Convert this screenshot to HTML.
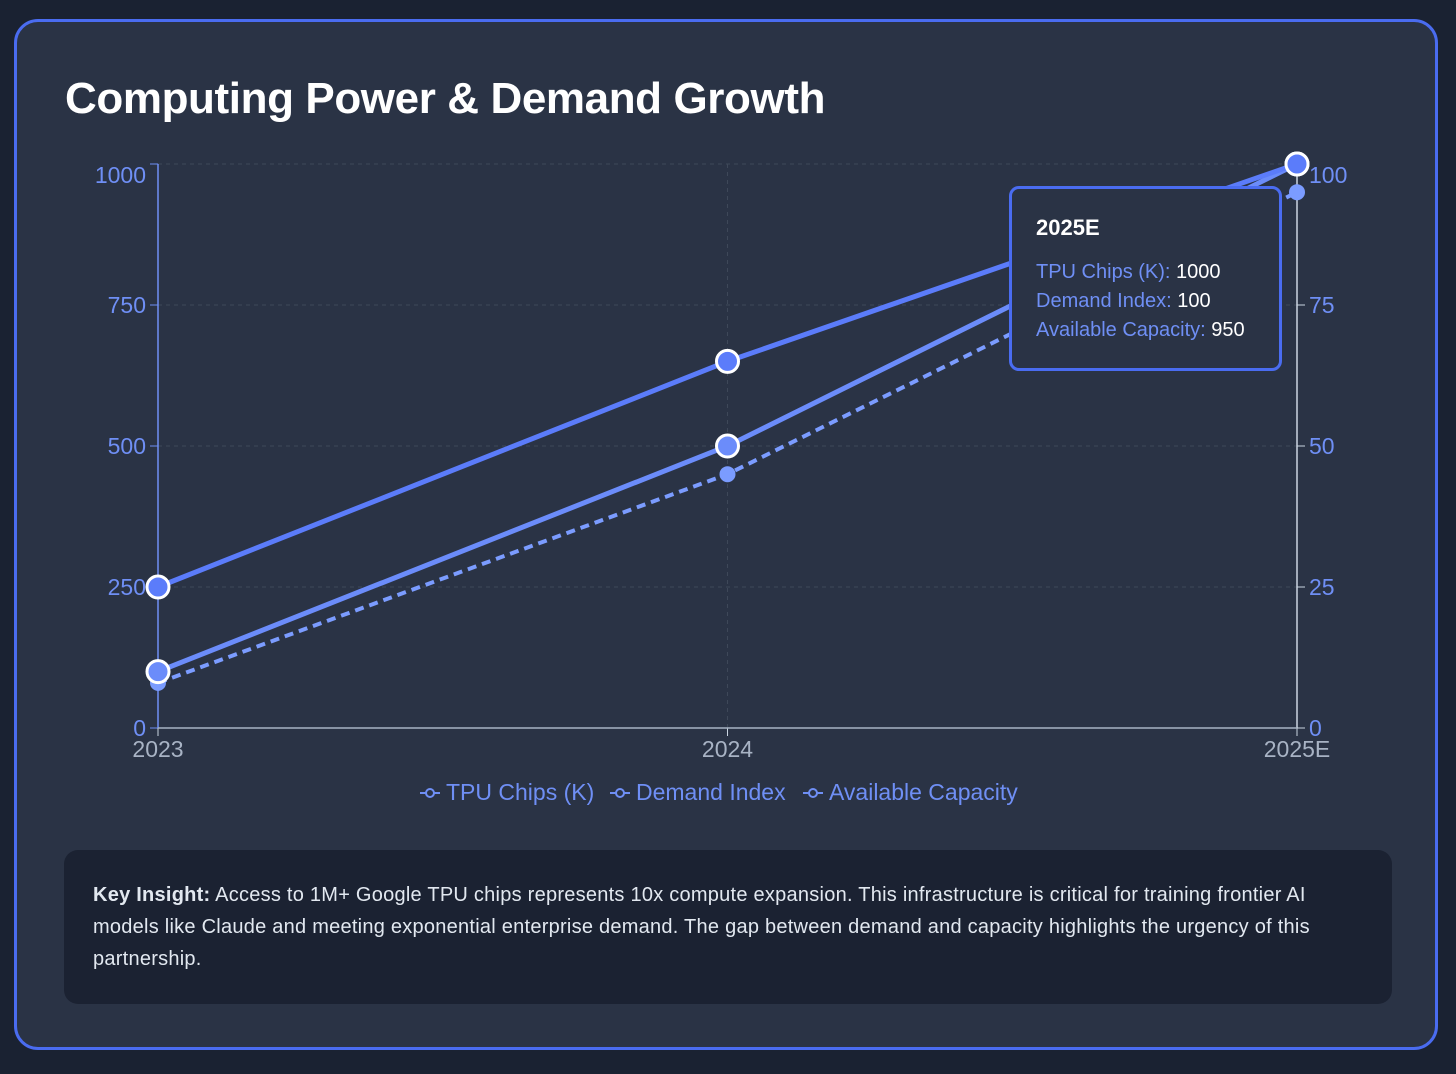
<!DOCTYPE html>
<html><head><meta charset="utf-8"><style>
html,body{margin:0;padding:0;background:#1a2232;width:1456px;height:1074px;overflow:hidden;font-family:"Liberation Sans",sans-serif}
.card{position:absolute;left:14px;top:19px;width:1424px;height:1031px;border:3px solid #4a6cf0;border-radius:24px;background:#2a3345;box-sizing:border-box}
h1{position:absolute;left:48px;top:52px;margin:0;color:#fff;font-size:44px;font-weight:bold;letter-spacing:-0.4px}
.insight{position:absolute;left:47px;top:829px;width:1328px;height:154px;background:#1b2232;border-radius:14px;box-sizing:border-box;padding:29px 29px;color:#e2e8f0;font-size:20px;line-height:32px;letter-spacing:0.25px}
.tip{position:absolute;left:1009px;top:186px;width:273px;height:185px;border:3px solid #4a6cf0;border-radius:10px;background:#2a3345;box-sizing:border-box;padding:26px 24px;font-size:20px;color:#fff}
.tip .t{font-weight:bold;font-size:22px;margin-bottom:17px}
.tip .r{line-height:29px}
.tip .k{color:#6f8ff5}
</style></head><body>
<div class="card">
<h1>Computing Power &amp; Demand Growth</h1>
</div>
<svg width="1456" height="1074" style="position:absolute;left:0;top:0" id="chart"></svg>
<div class="tip">
<div class="t">2025E</div>
<div class="r"><span class="k">TPU Chips (K):</span> 1000</div>
<div class="r"><span class="k">Demand Index:</span> 100</div>
<div class="r"><span class="k">Available Capacity:</span> 950</div>
</div>
<div class="insight" style="left:64px;top:850px"><b>Key Insight:</b> Access to 1M+ Google TPU chips represents 10x compute expansion. This infrastructure is critical for training frontier AI models like Claude and meeting exponential enterprise demand. The gap between demand and capacity highlights the urgency of this partnership.</div>
<script>
const categories=["2023","2024","2025E"];
const tpuChips=[250,650,1000];
const demandIndex=[10,50,100];
const availableCapacity=[80,450,950];
const leftTicks=[0,250,500,750,1000];
const rightTicks=[0,25,50,75,100];
const NS="http://www.w3.org/2000/svg";
const svg=document.getElementById('chart');
const x0=158,x1=1297,yb=728,yt=164;
const xs=i=>x0+i*(x1-x0)/(categories.length-1);
const yL=v=>yb-v/1000*(yb-yt);
const yR=v=>yb-v/100*(yb-yt);
function el(t,a,p){const e=document.createElementNS(NS,t);for(const k in a)e.setAttribute(k,a[k]);(p||svg).appendChild(e);return e;}
const lab=y=>Math.max(y,175)+8;
leftTicks.forEach((v,i)=>{
 if(v>0){const g=el('line',{x1:x0,x2:x1,y1:yL(v),y2:yL(v),stroke:'#3e4859','stroke-dasharray':'4 4'});
 
 }
 const t=el('text',{x:146,y:lab(yL(v)),'text-anchor':'end',fill:'#6f8ff5','font-size':23});t.textContent=v;
 
 
 el('line',{x1:150,x2:158,y1:yL(v),y2:yL(v),stroke:'#6f8ff5'});
});
rightTicks.forEach(v=>{
 const t=el('text',{x:1309,y:lab(yR(v)),fill:'#6f8ff5','font-size':23});t.textContent=v;
 
 
 el('line',{x1:1297,x2:1305,y1:yR(v),y2:yR(v),stroke:'#cbd5e1'});
});
categories.forEach((c,i)=>{
 if(i>0&&i<categories.length-1)el('line',{x1:xs(i),x2:xs(i),y1:yt,y2:yb,stroke:'#3e4859','stroke-dasharray':'4 4'});
 el('line',{x1:xs(i),x2:xs(i),y1:yb,y2:yb+8,stroke:'#cbd5e1'});
 const t=el('text',{x:xs(i),y:757,'text-anchor':'middle',fill:'#a8b3c4','font-size':23});t.textContent=c;
 
 
});
el('line',{x1:x0,x2:x0,y1:yt,y2:yb,stroke:'#6f8ff5','stroke-width':1.5});
el('line',{x1:x1,x2:x1,y1:yt,y2:yb,stroke:'#cbd5e1','stroke-width':1.5});
el('line',{x1:x0,x2:x1,y1:yb,y2:yb,stroke:'#a8b3c4','stroke-width':1.5});
function series(vals,yf,color,w,dash,r,name){
 const p=el('polyline',{points:vals.map((v,i)=>xs(i)+','+yf(v)).join(' '),fill:'none',stroke:color,'stroke-width':w,'stroke-dasharray':dash||'none'});
 
 
 vals.forEach((v,i)=>{const c=el('circle',{cx:xs(i),cy:yf(v),r:r,fill:color,stroke:dash?'none':'#fff','stroke-width':3});
 
 });
}
series(availableCapacity,yL,'#7b9cff',4,'9 6',8,'capacity');
series(demandIndex,yR,'#6b8cfa',5,null,11,'demand');
series(tpuChips,yL,'#5b7cfa',5,null,11,'tpu');
const leg=[["TPU Chips (K)",420],["Demand Index",610],["Available Capacity",803]];
leg.forEach(([n,x])=>{
 el('line',{x1:x,x2:x+20,y1:793,y2:793,stroke:'#6f8ff5','stroke-width':2});
 el('circle',{cx:x+10,cy:793,r:4,fill:'#2a3345',stroke:'#6f8ff5','stroke-width':2});
 const t=el('text',{x:x+26,y:800,fill:'#6f8ff5','font-size':23});t.textContent=n;
 
 
});
</script>
</body></html>
